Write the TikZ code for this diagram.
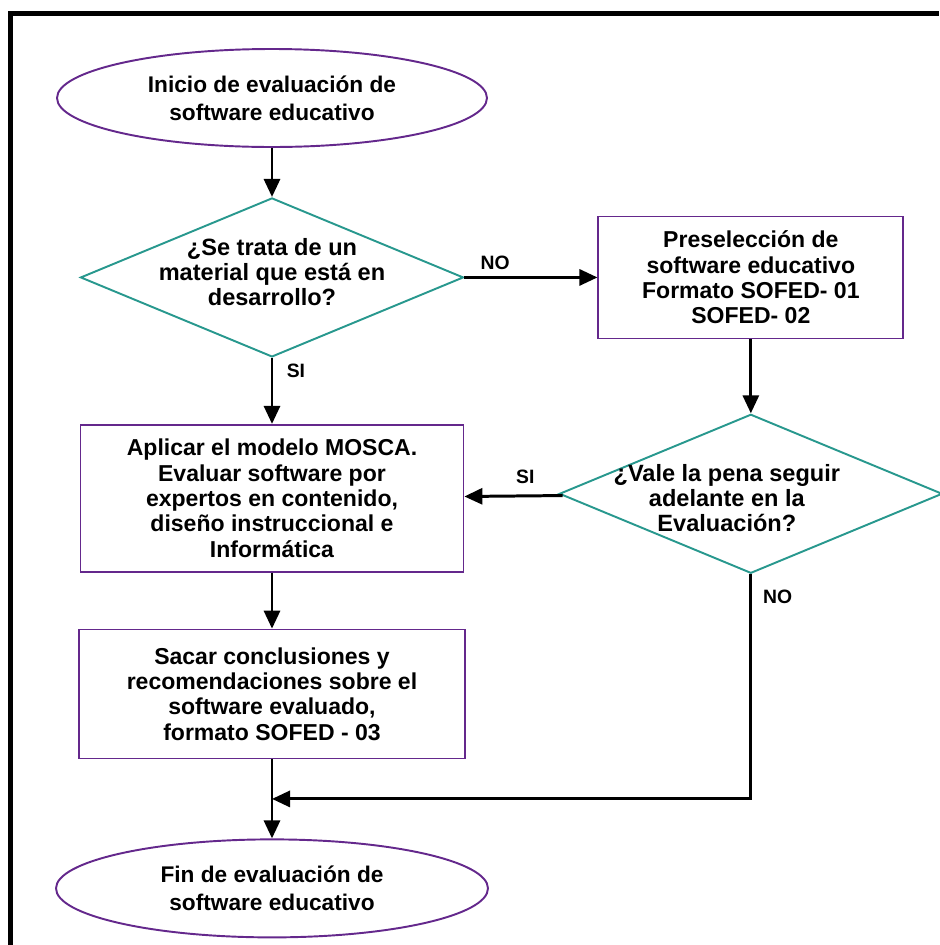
\documentclass[tikz,border=0pt]{standalone}
\usepackage{fontspec}
\setmainfont{Liberation Sans}
\usepackage{tikz}
\usetikzlibrary{positioning}
\usetikzlibrary{arrows.meta}
\usetikzlibrary{shapes,calc}
\definecolor{flowpurple}{RGB}{100,40,140}
\definecolor{flowteal}{RGB}{40,152,142}
\tikzset{terminal/.style={ellipse,draw=flowpurple,line width=1.1pt,minimum width=8.6cm,minimum height=1.96cm,inner sep=0pt,align=center,font=\fontsize{12.9}{16}\selectfont\bfseries},
	decision/.style={diamond,draw=flowteal,line width=1.1pt,minimum width=7.66cm,minimum height=3.18cm,shape aspect=2.41,inner sep=0pt},
	qtext/.style={align=center,font=\fontsize{13.4}{14.2}\selectfont\bfseries},
	process/.style={rectangle,draw=flowpurple,line width=1pt,inner sep=0pt,align=center,font=\fontsize{13.1}{14.4}\selectfont\bfseries},
	answer/.style={font=\fontsize{11}{12}\selectfont\bfseries},}

\begin{document}
\begin{tikzpicture}[->, >={Triangle[length=0.36cm,width=0.32cm]}, line width=1.7pt, node distance=1cm]
	\useasboundingbox (0,0) rectangle (18.78,-18.9);
	% frame
	\draw[-, line width=2.4pt] (0.21,-18.9) |- (18.78,-0.27);

	\node[terminal] (start) at (5.44,-1.96) {Inicio de evaluación de\\software educativo};
	\node[decision, label={[qtext, yshift=0.1cm]center:{¿Se trata de un\\material que está en\\desarrollo?}}] (d1) [below = 0.98cm of start] {};
	\node[process, minimum width=6.1cm, minimum height=2.44cm] (pre) [right = 2.66cm of d1] {Preselección de\\software educativo\\Formato SOFED- 01\\SOFED- 02};
	\node[decision, label={[qtext, xshift=-0.48cm, yshift=-0.09cm]center:{¿Vale la pena seguir\\adelante en la\\Evaluación?}}] (d2) [below = 1.48cm of pre] {};
	\node[process, minimum width=7.66cm, minimum height=2.94cm] (mosca) [below = 1.32cm of d1] {Aplicar el modelo MOSCA.\\Evaluar software por\\expertos en contenido,\\diseño instruccional e\\Informática};
	\node[process, minimum width=7.72cm, minimum height=2.58cm] (concl) [below = 1.12cm of mosca] {Sacar conclusiones y\\recomendaciones sobre el\\software evaluado,\\formato SOFED - 03};
	\node[terminal, minimum width=8.64cm] (end) [below = 1.58cm of concl] {Fin de evaluación de\\software educativo};
	\coordinate (join) at ($(concl.south)!0.5!(end.north)$);

	\path[draw]
	(start) edge (d1)
	(d1) edge node[answer, above, pos=0.23] {NO} (pre)
	(d1) edge node[answer, right, pos=0.2, xshift=0.15cm] {SI} (mosca)
	(pre) edge (d2)
	(d2) edge node[answer, above, pos=0.38, yshift=0.1cm] {SI} (mosca)
	(mosca) edge (concl)
	(concl) edge (end);
	\draw (d2.south) |- node[answer, right, pos=0.05, xshift=0.1cm] {NO} (join);
\end{tikzpicture}
\end{document}
